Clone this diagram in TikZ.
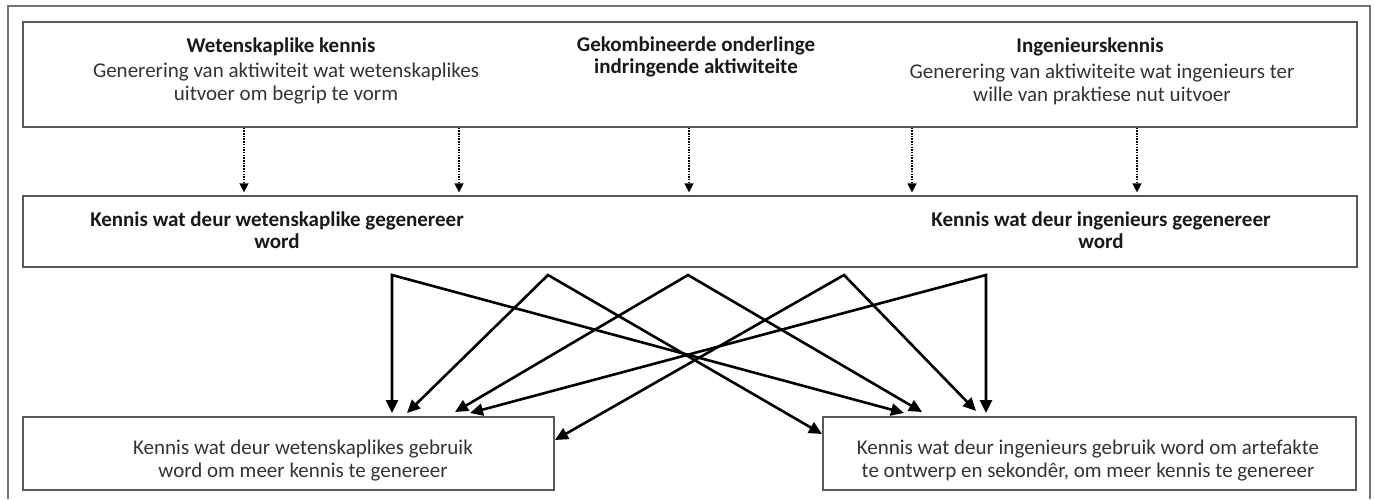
\documentclass[tikz,border=0pt]{standalone}
\usepackage{fontspec}
\setmainfont{Carlito}
\usetikzlibrary{arrows.meta}
\tikzset{
  box/.style={draw=black!65, line width=1.3pt, rectangle, inner sep=0pt},
  lbl/.style={inner sep=0pt, align=center, text=black!80, font=\fontsize{21}{23}\selectfont},
  blbl/.style={inner sep=0pt, align=center, text=black!90, font=\fontsize{21}{22}\selectfont\bfseries},
  dotarr/.style={line width=1.5pt, dash pattern=on 1.5pt off 1.2pt, -{Triangle[length=9pt,width=9pt]}},
  solarr/.style={line width=2.6pt, line join=miter, {Triangle[length=13pt,width=12pt]}-{Triangle[length=13pt,width=12pt]}},
}
\begin{document}
\begin{tikzpicture}[x=1pt,y=-1pt]
\useasboundingbox (0,0) rectangle (1375,499);
% outer frame
\draw[black!55, line width=1.5pt] (8,499) -- (8,6) -- (1370,6) -- (1370,499);
% boxes
\node[box, minimum width=1334pt, minimum height=105pt] (top) at (690,74.5) {};
\node[box, minimum width=1334pt, minimum height=71pt] (mid) at (690,231.5) {};
\node[box, minimum width=531pt, minimum height=73pt] (lb) at (288.5,453.5) {};
\node[box, minimum width=533pt, minimum height=73pt] (rb) at (1089.5,453.5) {};
% top texts
\node[blbl] (t1) at (281,47) {Wetenskaplike kennis};
\node[lbl] (t1b) at (286,84) {Generering van aktiwiteit wat wetenskaplikes\\uitvoer om begrip te vorm};
\node[blbl] (t2) at (696,57) {Gekombineerde onderlinge\\indringende aktiwiteite};
\node[blbl] (t3) at (1090,47) {Ingenieurskennis};
\node[lbl] (t3b) at (1102,84) {Generering van aktiwiteite wat ingenieurs ter\\wille van praktiese nut uitvoer};
% middle texts
\node[blbl] (m1) at (277,230) {Kennis wat deur wetenskaplike gegenereer\\word};
\node[blbl] (m2) at (1101,230) {Kennis wat deur ingenieurs gegenereer\\word};
% bottom texts
\node[lbl] (b1) at (303,461) {Kennis wat deur wetenskaplikes gebruik\\word om meer kennis te genereer};
\node[lbl] (b2) at (1088,461) {Kennis wat deur ingenieurs gebruik word om artefakte\\te ontwerp en sekondêr, om meer kennis te genereer};
% dotted arrows
\foreach \n/\x in {1/244,2/459,3/689,4/912,5/1137}{
  \coordinate (d\n) at (\x,0);
  \draw[dotarr, shorten >=3pt] (top.south -| d\n) -- (mid.north -| d\n);
}
% apex coordinates
\coordinate (A1) at (392,275);
\coordinate (A2) at (548,275);
\coordinate (A3) at (688,275);
\coordinate (A4) at (844,275);
\coordinate (A5) at (986,275);
% targets
\coordinate (L1) at (392,413);
\coordinate (R1) at (904,413);
\coordinate (L2) at (407,413);
\coordinate (R2) at (822,434);
\coordinate (L3) at (455,412);
\coordinate (R3) at (922,412);
\coordinate (L4) at (555,440);
\coordinate (R4) at (976,411);
\coordinate (L5) at (470,413);
\coordinate (R5) at (986,413);
% solid arrows
\draw[solarr] (L1) -- (A1) -- (R1);
\draw[solarr] (L2) -- (A2) -- (R2);
\draw[solarr] (L3) -- (A3) -- (R3);
\draw[solarr] (L4) -- (A4) -- (R4);
\draw[solarr] (L5) -- (A5) -- (R5);
\end{tikzpicture}
\end{document}
